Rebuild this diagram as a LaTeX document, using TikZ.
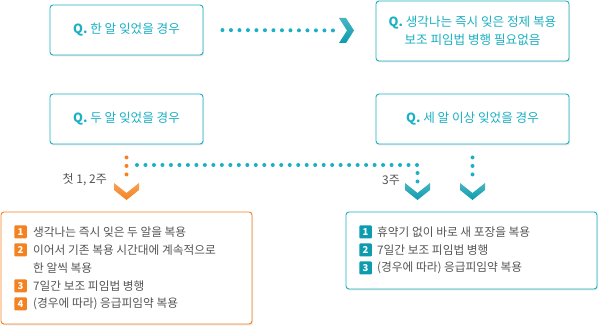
\documentclass[tikz,border=0pt]{standalone}
\usepackage{fontspec}
\setmainfont{Noto Sans CJK KR}
\usetikzlibrary{positioning,shadows}
\definecolor{pillTeal}{RGB}{27,176,196}
\definecolor{pillTealDark}{RGB}{12,156,174}
\definecolor{pillOrange}{RGB}{244,130,32}
\definecolor{pillOrangeLight}{RGB}{250,160,60}
\definecolor{pillGray}{RGB}{85,85,85}

\tikzset{
  qbox/.style={draw=pillTeal, line width=0.9pt, rounded corners=3pt, fill=white,
    text=pillTeal, align=center, font=\fontsize{12.6}{18}\selectfont,
    drop shadow={opacity=0.18, shadow xshift=1pt, shadow yshift=-1.5pt}},
  listbox/.style={draw=#1, line width=0.9pt, rounded corners=3pt, fill=white,
    drop shadow={opacity=0.18, shadow xshift=1pt, shadow yshift=-1.5pt}},
  badge/.style={fill=#1, rounded corners=1pt, text=white, inner sep=0pt,
    minimum width=12.5pt, minimum height=13pt, font=\bfseries\fontsize{9.5}{9.5}\selectfont},
  item/.style={text=pillGray, anchor=west, inner sep=0pt, font=\fontsize{11.7}{13}\selectfont},
  wklabel/.style={text=pillGray, anchor=east, inner sep=0pt, font=\fontsize{12}{13}\selectfont},
  dotline/.style={draw=#1, line width=4pt, line cap=round, dash pattern=on 0pt off 8.5pt},
  dchev/.pic={\shade[top color=#1!75!white, bottom color=#1]
    (-12.5,-8.5) -- (-12.5,-1.5) -- (0,8.5) -- (12.5,-1.5) -- (12.5,-8.5) -- (0,1.5) -- cycle;},
  rchev/.pic={\shade[top color=#1!75!white, bottom color=#1]
    (-7.5,-12.5) -- (-0.5,-12.5) -- (7.5,0) -- (-0.5,12.5) -- (-7.5,12.5) -- (0.5,0) -- cycle;},
}

\begin{document}
\begin{tikzpicture}[x=1pt,y=-1pt]
    \useasboundingbox (0,0) rectangle (602,328);

    % question boxes
    \node[qbox, minimum width=153pt, minimum height=50pt] (q1) at (126.5,30) {\textbf{Q.} 한 알 잊었을 경우};
    \node[qbox, minimum width=193pt, minimum height=60pt] (q2) at (472.5,31)
        {\textbf{Q.} 생각나는 즉시 잊은 정제 복용\\보조 피임법 병행 필요없음};
    \node[qbox, minimum width=153pt, minimum height=50pt] (q3) at (126.5,119) {\textbf{Q.} 두 알 잊었을 경우};
    \node[qbox, minimum width=193pt, minimum height=50pt] (q4) at (472.5,119) {\textbf{Q.} 세 알 이상 잊었을 경우};

    % answer boxes
    \node[listbox=pillOrange, minimum width=251pt, minimum height=112pt] (early) at (126.5,268) {};
    \node[listbox=pillTeal, minimum width=251pt, minimum height=77pt] (late) at (471.5,250.5) {};

    % chevrons
    \coordinate (tip1) at (346.5,30.5);
    \coordinate (tip2) at (126.5,191.5);
    \coordinate (tip3) at (417.5,191.5);
    \coordinate (tip4) at (472.5,191.5);
    \coordinate (split) at (137,165);
    \pic at (tip1) {rchev=pillTealDark};
    \pic at (tip2) {dchev=pillOrange};
    \pic at (tip3) {dchev=pillTealDark};
    \pic at (tip4) {dchev=pillTealDark};

    % dotted connectors
    \draw[dotline=pillTeal, shorten <=19pt, shorten >=13.5pt] (q1.east) -- (tip1);
    \draw[dotline=pillOrange, shorten <=13pt, shorten >=11pt] (q3.south) -- (tip2);
    \draw[dotline=pillTeal, dash pattern=on 0pt off 8.485pt, shorten >=9.3pt] (split) -| (tip3);
    \draw[dotline=pillTeal, shorten <=13pt, shorten >=11pt] (q4.south) -- (tip4);

    \node[wklabel] (wk12) at (107,180) {첫 1, 2주};
    \node[wklabel] (wk3) at (400,180) {3주};

    % first weeks
    \foreach \n/\yy/\txt in {1/232/생각나는 즉시 잊은 두 알을 복용,
                             2/250/이어서 기존 복용 시간대에 계속적으로,
                             3/286/7일간 보조 피임법 병행,
                             4/304/(경우에 따라) 응급피임약 복용}{
        \node[badge=pillOrange] (eb\n) at (20.5,\yy) {\n};
        \node[item] (et\n) at (33,\yy) {\txt};
    }
    \node[item] (et2b) at (33,268) {한 알씩 복용};

    % third week
    \foreach \n/\yy/\txt in {1/232/휴약기 없이 바로 새 포장을 복용,
                             2/250/7일간 보조 피임법 병행,
                             3/268/(경우에 따라) 응급피임약 복용}{
        \node[badge=pillTealDark] (lb\n) at (365.5,\yy) {\n};
        \node[item] (lt\n) at (377,\yy) {\txt};
    }
\end{tikzpicture}
\end{document}
